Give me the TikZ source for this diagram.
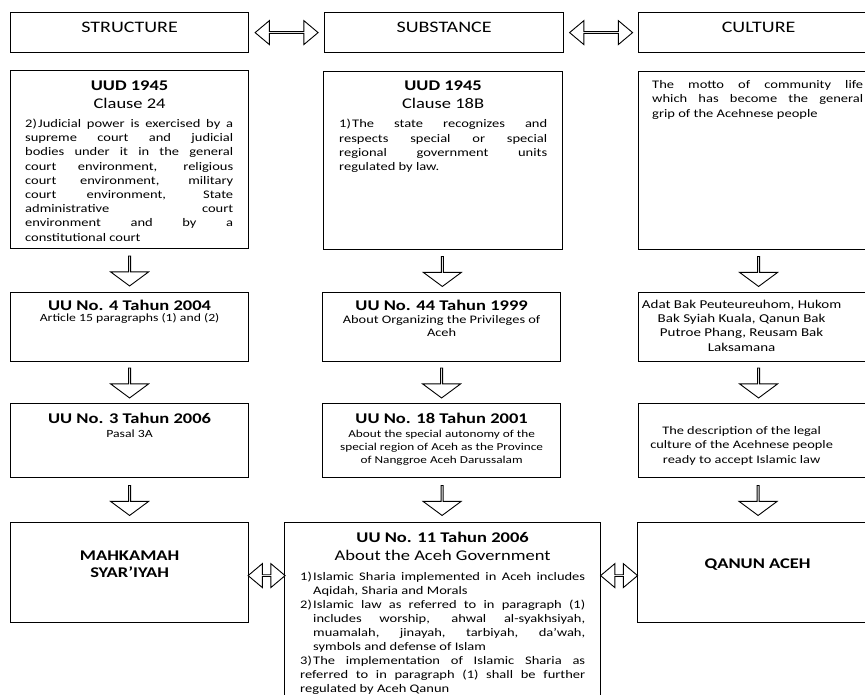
\documentclass[tikz,border=0pt]{standalone}
\usepackage{fontspec}
\setmainfont[FakeStretch=1.25]{Carlito}
\usetikzlibrary{shapes.arrows, positioning, calc}
\tolerance=9999
\hyphenpenalty=10000
\exhyphenpenalty=10000
\newcommand{\itm}[1]{\par\hangindent=13pt\hangafter=1\noindent\strut\makebox[13pt][l]{#1}}

\begin{document}
\begin{tikzpicture}[
    x=1pt, y=-1pt,
    box/.style={draw, line width=1.2pt, anchor=north west, inner sep=0pt},
    hdr/.style={font=\fontsize{16}{19}\selectfont, text height=10pt, text depth=10pt},
    ttl/.style={anchor=base, inner sep=0pt, font=\fontsize{14.8}{17}\selectfont\bfseries},
    cls/.style={anchor=base, inner sep=0pt, font=\fontsize{14.8}{17}\selectfont},
    body/.style={anchor=north west, inner sep=0pt, align=justify, font=\fontsize{11.6}{14.2}\selectfont},
    sub/.style={anchor=north, inner sep=0pt, align=center},
    subone/.style={anchor=base, inner sep=0pt, font=\fontsize{11}{13}\selectfont},
    darrow/.style={single arrow, draw, fill=white, line width=0.9pt, inner sep=0pt,
        minimum height=30pt, minimum width=38pt, single arrow head extend=8.5pt,
        single arrow tip angle=107, shape border rotate=270},
    harrow/.style={double arrow, draw, fill=white, line width=0.9pt, inner sep=0pt,
        minimum width=24pt, double arrow head extend=5.5pt, double arrow tip angle=80}
]
\useasboundingbox (0,0) rectangle (865,694);
\clip (0,0) rectangle (865,694);

% Nodes
\node[box, hdr, minimum width=238pt, minimum height=40pt] (structure) at (10,12) {STRUCTURE};
\node[box, hdr, minimum width=239pt, minimum height=40pt] (substance) at (324,12) {SUBSTANCE};
\node[box, hdr, minimum width=240pt, minimum height=40pt] (culture) at (638,12) {CULTURE};

\node[box, minimum width=238pt, minimum height=178pt] (uud24) at (10,70) {};
\node[box, minimum width=239pt, minimum height=178pt] (uud18) at (323,71) {};
\node[box, minimum width=240pt, minimum height=178pt] (motto) at (638,71) {};

\node[box, minimum width=238pt, minimum height=69pt] (uu4) at (10,292) {};
\node[box, minimum width=238pt, minimum height=69pt] (uu44) at (322,292) {};
\node[box, minimum width=240pt, minimum height=69pt] (adat) at (638,292) {};

\node[box, minimum width=238pt, minimum height=74pt] (uu3) at (10,403) {};
\node[box, minimum width=238pt, minimum height=74pt] (uu18) at (322,403) {};
\node[box, minimum width=240pt, minimum height=74pt] (desc) at (638,403) {};

\node[box, minimum width=238pt, minimum height=100pt] (mahkamah) at (10,522) {};
\node[box, minimum width=316pt, minimum height=180pt] (uu11) at (284,522) {};
\node[box, minimum width=240pt, minimum height=100pt, font=\fontsize{14.8}{17}\selectfont\bfseries,
    text height=10pt, text depth=18pt] (qanun) at (637,522) {QANUN ACEH};

% Texts
\node[ttl] (uud24-t) at ([yshift=-20pt]uud24.north) {UUD 1945};
\node[cls] (uud24-c) at ([yshift=-38pt]uud24.north) {Clause 24};
\node[body, text width=208pt] (uud24-b) at ([xshift=15pt, yshift=-43pt]uud24.north west)
    {\itm{2)}Judicial power is exercised by a\linebreak supreme court and judicial\linebreak
     bodies under it in the general\linebreak court environment, religious\linebreak
     court environment, military\linebreak court environment, State\linebreak
     administrative court\linebreak environment and by a\linebreak constitutional court};

\node[ttl] (uud18-t) at ([yshift=-19.5pt]uud18.north) {UUD 1945};
\node[cls] (uud18-c) at ([yshift=-37.5pt]uud18.north) {Clause 18B};
\node[body, text width=208pt] (uud18-b) at ([xshift=16pt, yshift=-42.5pt]uud18.north west)
    {\itm{1)}The state recognizes and\linebreak respects special or special\linebreak
     regional government units\linebreak regulated by law.};

\node[body, text width=211pt] (motto-b) at ([xshift=14pt, yshift=-7.5pt]motto.north west)
    {\strut The motto of community life\linebreak which has become the general\linebreak
     grip of the Acehnese people};

\node[ttl] (uu4-t) at ([yshift=-18pt]uu4.north) {UU No. 4 Tahun 2004};
\node[subone] (uu4-s) at ([yshift=-29pt]uu4.north) {Article 15 paragraphs (1) and (2)};

\node[ttl] (uu44-t) at ([yshift=-18pt]uu44.north) {UU No. 44 Tahun 1999};
\node[sub, font=\fontsize{11.5}{12.5}\selectfont] (uu44-s) at ([yshift=-23pt]uu44.north)
    {\strut About Organizing the Privileges of\\Aceh};

\node[sub, font=\fontsize{12}{14.3}\selectfont] (adat-s) at ([xshift=-17pt, yshift=-6pt]adat.north)
    {\strut Adat Bak Peuteureuhom, Hukom\\Bak Syiah Kuala, Qanun Bak\\Putroe Phang, Reusam Bak\\Laksamana};

\node[ttl] (uu3-t) at ([yshift=-20pt]uu3.north) {UU No. 3 Tahun 2006};
\node[subone] (uu3-s) at ([yshift=-34pt]uu3.north) {Pasal 3A};

\node[ttl] (uu18-t) at ([yshift=-20pt]uu18.north) {UU No. 18 Tahun 2001};
\node[sub, font=\fontsize{10.6}{13.3}\selectfont] (uu18-s) at ([yshift=-24.7pt]uu18.north)
    {\strut About the special autonomy of the\\special region of Aceh as the Province\\of Nanggroe Aceh Darussalam};

\node[sub, font=\fontsize{11.5}{14.5}\selectfont] (desc-s) at ([xshift=-17pt, yshift=-20.8pt]desc.north)
    {\strut The description of the legal\\culture of the Acehnese people\\ready to accept Islamic law};

\node[sub, font=\fontsize{14.8}{17}\selectfont\bfseries] (mahkamah-s) at ([yshift=-26.1pt]mahkamah.north)
    {\strut MAHKAMAH\\SYAR'IYAH};

\node[ttl] (uu11-t) at ([yshift=-20.7pt]uu11.north) {UU No. 11 Tahun 2006};
\node[cls] (uu11-c) at ([yshift=-38pt]uu11.north) {About the Aceh Government};
\node[body, text width=285pt, font=\fontsize{11.6}{14}\selectfont] (uu11-b) at ([xshift=16pt, yshift=-44.2pt]uu11.north west)
    {\itm{1)}Islamic Sharia implemented in Aceh includes\linebreak Aqidah, Sharia and Morals
     \itm{2)}Islamic law as referred to in paragraph (1)\linebreak includes worship, ahwal al-syakhsiyah,\linebreak
     muamalah, jinayah, tarbiyah, da'wah,\linebreak symbols and defense of Islam
     \itm{3)}The implementation of Islamic Sharia as\linebreak referred to in paragraph (1) shall be further\linebreak
     regulated by Aceh Qanun};

% Arrows
\node[harrow, minimum height=63pt] (a-ss) at ($(structure.east)!0.5!(substance.west)$) {};
\node[harrow, minimum height=63pt] (a-sc) at ($(substance.east)!0.5!(culture.west)$) {};

\node[darrow] (a-l1) at ($(uud24.south)!0.5!(uu4.north)$) {};
\node[darrow] (a-m1) at ($(uud18.south)!0.5!(uu44.north)$) {};
\node[darrow] (a-r1) at ($(motto.south)!0.5!(adat.north)$) {};
\node[darrow] (a-l2) at ($(uu4.south)!0.5!(uu3.north)$) {};
\node[darrow] (a-m2) at ($(uu44.south)!0.5!(uu18.north)$) {};
\node[darrow] (a-r2) at ($(adat.south)!0.5!(desc.north)$) {};
\node[darrow] (a-l3) at ($(uu3.south)!0.5!(mahkamah.north)$) {};
\node[darrow] (a-m3) at ($(uu18.south)!0.5!(uu11.north)$) {};
\node[darrow] (a-r3) at ($(desc.south)!0.5!(qanun.north)$) {};

\node[harrow, minimum height=37pt] (a-mu) at ([yshift=-3pt]$(mahkamah.east)!0.5!(mahkamah.east -| uu11.west)$) {};
\node[harrow, minimum height=37pt] (a-uq) at ([yshift=-3pt]$(qanun.west)!0.5!(qanun.west -| uu11.east)$) {};

\end{tikzpicture}
\end{document}
